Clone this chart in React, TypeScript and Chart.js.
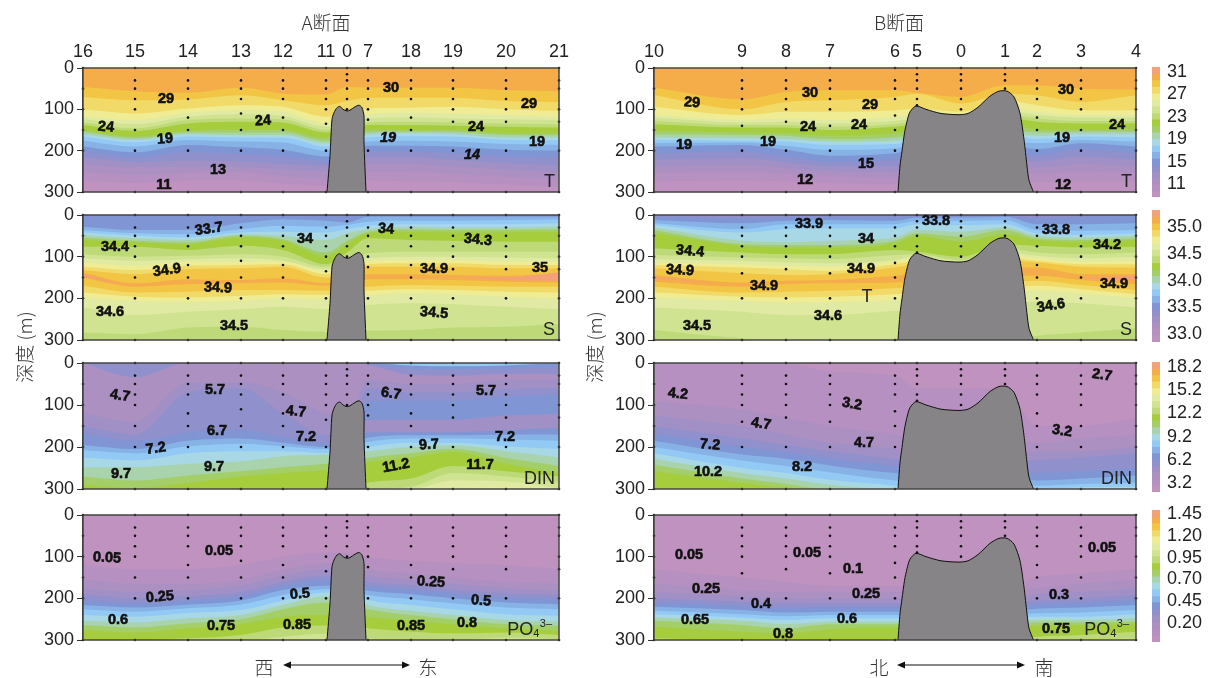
import React, { useEffect, useRef } from "react";
import { Chart, registerables } from "chart.js";
Chart.register(...registerables);

const PALETTE = ["#F4A078","#F5AD4A","#F2C644","#F1DA68","#EFEC94","#E0EAA2","#CFE391","#BEDA78","#A6CD3C","#A3CE68","#A8D3AC","#A8D8E6","#93C9F5","#86B2E6","#7F95D4","#8F90CC","#A090C5","#AD90C2","#B690C0","#C092BF"];
const TERRAIN_COLOR = "#868486";

const stationsA = ["16","15","14","13","12","11","0","7","18","19","20","21"];
const distA = [0,52,105,158,200,243,264,285,328,370,423,476];
const stationsB = ["10","9","8","7","6","5","0","1","2","3","4"];
const distB = [0,88,132,176,241,263,307,351,383,427,482];

const sampleDepthsA = [[0,50,100,150,200,300],[0,30,50,75,100,150,200,300],[0,30,50,75,120,150,200,300],[0,30,50,75,110,150,200,300],[0,30,50,75,120,150,200,300],[0,30,50,75,100,135,200,300],[0,15,30,50,75,100],[0,30,50,75,100,125,200,300],[0,30,50,75,120,150,200,300],[0,30,50,75,100,130,200,300],[0,30,50,75,100,130,200,300],[0,30,50,100,130,200,300]];
const sampleDepthsB = [[0,50,100,150,200,300],[0,30,50,75,100,140,200,300],[0,30,50,75,100,130,200,300],[0,30,50,75,100,140,200,300],[0,30,50,75,115,150,200,300],[0,15,30,50,75,90],[0,15,30,50,75,100],[0,15,30,50],[0,30,50,75,120,150,200,300],[0,30,50,75,100,150,200,300],[0,30,50,100,150,200,300]];

const terrainDistA = [244,247,249,251,254,257,260,264,267,272,276,279,281,281,283];
const terrainDepthA = [300,212,124,108,96,93,100,104,102,94,90,96,116,180,300];
const terrainDistB = [244,246,248,250.5,253,256,262,272,287,305,314,324,336,345,353,360,366,370,373,375,379.5];
const terrainDepthB = [300,237,201,157,129,106,92,100,110,113,110,95,68,56,56,70,110,173,237,272,300];

const tempAColors = [1,2,3,4,5,6,7,8,9,10,11,12,13,14,15,16,17,18,19];
const tempARows = [
[0,0,0,0,0,0,0,0,0,0,0,0],
[46,56,60,48,62,64,46,47,48,48,54,56],
[70,78,76,66,78,90,80,72,72,72,80,82],
[100,110,98,90,94,118,110,98,96,94,100,104],
[116,126,108,102,106,134,126,112,108,110,114,118],
[124,136,118,112,116,142,134,122,120,122,124,126],
[132,146,126,122,124,150,142,132,130,132,134,136],
[138,152,134,130,132,156,148,138,138,140,142,144],
[150,166,152,150,150,170,162,150,150,150,158,158],
[155,170,156,156,156,176,168,156,154,155,162,163],
[160,174,160,162,162,182,174,162,158,160,168,168],
[166,180,166,168,168,190,180,168,165,166,174,175],
[176,190,174,178,180,200,188,178,176,178,184,186],
[190,204,186,192,198,214,200,188,188,190,198,200],
[202,216,204,208,214,226,214,202,202,206,214,216],
[216,228,224,226,232,236,226,216,216,222,230,236],
[232,240,240,240,246,250,240,232,232,238,246,252],
[252,258,254,252,262,268,256,252,252,256,264,270],
[272,278,272,272,280,284,276,272,274,276,282,288],
];
const tempBColors = [1,2,3,4,5,6,7,8,9,10,11,12,13,14,15,16,17,18,19];
const tempBRows = [
[0,0,0,0,0,0,0,0,0,0,0],
[48,76,58,54,54,60,70,42,42,50,52],
[66,100,82,78,70,62,86,62,66,82,66],
[94,114,106,106,102,98,106,78,90,102,102],
[114,126,122,126,118,114,118,94,106,114,114],
[120,132,130,134,128,122,126,104,114,120,120],
[128,138,138,142,136,130,132,112,122,128,128],
[136,144,144,150,142,138,140,120,130,134,134],
[152,156,158,164,158,152,152,140,148,150,148],
[160,162,164,172,168,160,160,148,156,154,154],
[168,170,172,178,176,168,168,156,164,160,160],
[174,176,178,186,184,176,176,164,172,166,168],
[182,180,188,198,194,186,186,176,182,174,178],
[190,186,198,212,206,198,198,188,196,182,190],
[206,202,214,226,222,214,214,204,212,196,206],
[222,218,228,238,238,230,230,220,226,214,222],
[238,234,242,250,252,246,246,238,240,232,238],
[254,252,256,262,266,262,262,256,256,252,254],
[274,272,274,278,282,280,280,276,276,274,274],
];
const salAColors = [15,14,13,12,11,10,9,8,7,6,5,4,3,2,1,0,1,2,3,4,5,6,7];
const salARows = [
[0,0,0,0,0,0,0,0,0,0,0,0],
[4,2,2,1,2,3,3,1,1,1,1,1],
[28,36,36,20,10,14,18,4,4,4,4,4],
[36,44,46,34,26,28,24,16,14,14,12,10],
[42,50,54,42,40,42,34,26,22,22,22,20],
[48,56,60,46,50,60,44,34,28,30,30,28],
[54,62,66,50,58,90,62,40,34,36,36,34],
[60,66,70,54,62,100,70,44,40,42,42,40],
[76,76,84,74,84,118,90,56,60,62,64,64],
[94,100,98,94,100,124,110,92,88,88,88,88],
[104,110,106,104,110,130,118,104,100,100,102,104],
[114,122,112,112,112,136,124,110,108,108,112,112],
[124,132,122,120,118,142,130,118,116,116,120,120],
[132,142,130,128,124,150,136,124,124,124,128,128],
[138,164,154,156,152,164,154,142,142,144,146,140],
[142,168,160,158,156,165,158,148,146,148,150,138],
[148,168,160,158,156,165,158,148,146,148,156,158],
[150,172,166,164,162,170,164,154,154,156,160,162],
[170,186,184,180,180,182,176,172,168,170,172,172],
[186,196,198,194,190,192,188,182,178,180,184,186],
[198,206,208,206,200,202,198,192,188,190,196,200],
[222,240,232,226,220,226,222,216,212,214,220,226],
[282,286,270,268,276,280,280,278,276,270,268,262],
];
const salBColors = [15,14,13,12,11,10,9,8,7,6,5,4,3,2,1,0,1,2,3,4,5,6,7];
const salBRows = [
[0,0,0,0,0,0,0,0,0,0,0],
[4,8,6,4,4,3,3,3,8,4,3],
[12,20,14,12,14,6,6,4,22,22,20],
[20,34,22,22,22,14,14,12,36,38,36],
[24,42,34,32,32,22,24,22,44,48,44],
[30,62,66,62,54,36,40,30,50,54,50],
[36,70,72,72,62,44,52,36,56,60,56],
[44,74,78,78,68,50,64,46,60,64,60],
[80,90,94,94,84,88,100,70,74,78,76],
[96,102,104,106,96,94,108,80,90,94,90],
[106,110,114,116,108,98,112,90,98,104,100],
[114,118,122,124,112,104,116,96,104,112,110],
[120,126,130,134,118,110,120,102,110,118,118],
[128,140,144,142,126,118,126,110,114,124,126],
[144,162,158,156,146,140,140,128,126,142,142],
[148,166,160,158,154,148,148,138,136,150,146],
[152,166,160,158,154,148,148,138,136,150,156],
[160,172,166,164,162,158,158,146,146,156,166],
[172,186,184,182,176,172,172,162,158,168,180],
[186,196,198,196,190,186,186,176,170,178,190],
[198,206,210,208,204,198,198,190,182,188,200],
[222,232,240,240,230,226,226,216,208,212,222],
[276,296,300,300,300,300,300,300,290,282,272],
];
const dinAColors = [12,14,16,15,17,16,15,14,16,14,13,12,11,10,9,8,7,6,5,4];
const dinARows = [
[0,0,0,0,0,0,0,0,0,0,0,0],
[0,0,0,0,0,0,0,0,6,8,6,0],
[0,0,0,0,0,0,0,4,14,16,14,10],
[0,0,0,0,0,0,0,4,14,16,14,10],
[0,34,0,0,0,0,0,4,28,30,26,26],
[120,140,46,46,70,120,130,40,50,50,40,40],
[150,170,70,60,120,170,170,60,70,70,62,60],
[168,186,165,160,175,190,185,90,90,90,80,76],
[175,192,172,168,180,196,190,135,135,135,125,120],
[175,192,172,168,180,196,190,165,165,165,160,155],
[195,205,185,180,190,200,195,178,172,172,170,170],
[208,215,198,192,198,205,200,188,180,180,182,185],
[225,232,215,210,210,214,210,200,190,190,198,205],
[248,248,240,234,222,218,215,210,200,196,210,225],
[270,280,268,258,248,240,235,226,215,204,226,245],
[290,298,286,270,262,255,250,236,225,212,240,262],
[300,300,300,300,300,300,300,285,275,245,258,270],
[300,300,300,300,300,300,300,300,295,262,270,285],
[300,300,300,300,300,300,300,300,300,280,282,298],
[300,300,300,300,300,300,300,300,300,298,296,300],
];
const dinBColors = [19,18,17,16,15,14,13,12,11,10,9,8,7];
const dinBRows = [
[0,0,0,0,0,0,0,0,0,0,0],
[0,0,0,20,30,60,60,60,150,150,130],
[90,110,130,150,170,180,180,180,190,180,170],
[125,150,170,190,205,220,220,220,210,210,200],
[150,180,195,210,228,235,235,235,232,225,215],
[168,200,212,228,245,250,250,250,262,258,250],
[185,218,228,244,262,265,265,265,280,275,268],
[200,232,245,260,280,285,285,285,292,288,285],
[215,250,262,278,292,300,300,300,300,296,294],
[228,262,275,290,300,300,300,300,300,300,300],
[242,275,288,300,300,300,300,300,300,300,300],
[258,285,296,300,300,300,300,300,300,300,300],
[300,300,300,300,300,300,300,300,300,300,300],
];
const poAColors = [19,18,17,16,15,14,13,12,11,10,9,8,7,6];
const poARows = [
[0,0,0,0,0,0,0,0,0,0,0,0],
[120,130,130,120,100,90,90,100,110,115,120,130],
[155,165,165,155,130,115,115,130,140,150,160,165],
[175,185,180,170,145,130,130,145,155,165,175,180],
[190,200,195,185,160,145,145,160,168,178,188,192],
[205,212,205,195,170,155,155,170,178,188,198,202],
[216,222,215,205,180,170,170,182,190,200,210,214],
[226,232,224,215,192,178,178,192,202,212,222,226],
[240,244,235,228,205,186,186,204,216,226,238,242],
[254,258,248,240,216,195,195,216,230,240,252,256],
[264,270,260,250,226,210,210,226,240,250,262,266],
[276,282,272,262,244,240,240,245,254,262,272,278],
[300,300,296,288,270,265,265,272,280,284,282,288],
[300,300,300,300,292,285,285,296,300,300,294,298],
];
const poBColors = [19,18,17,16,15,14,13,12,11,10,9,8,7,6];
const poBRows = [
[0,0,0,0,0,0,0,0,0,0,0],
[130,150,160,170,170,170,170,170,150,140,130],
[165,180,185,185,185,185,185,185,175,165,155],
[185,195,200,200,200,200,200,200,190,185,175],
[200,208,212,212,212,212,212,212,205,200,192],
[210,218,224,222,222,222,222,222,214,210,204],
[220,228,234,232,232,232,232,232,225,222,216],
[230,238,243,240,240,240,240,240,236,234,228],
[238,246,252,248,248,248,248,248,244,244,238],
[246,254,262,256,256,256,256,256,252,252,248],
[254,264,272,262,262,262,262,262,258,258,256],
[268,280,284,274,270,270,270,270,266,264,262],
[296,300,300,300,300,300,300,300,292,288,280],
[300,300,300,300,300,300,300,300,300,300,296],
];

type Lab = [string, number, number, number?, boolean?];
const tempALabels: Lab[] = [["24",23,143,5],["29",83,75],["19",82,172,-4],["13",135,247],["11",81,283],["24",180,128,-4],["30",308,48],["19",305,169,0,true],["24",393,143],["14",389,211,0,true],["29",446,87],["19",454,179]];
const salALabels: Lab[] = [["34.4",32,77],["33.7",126,34,-8],["34",222,58],["34",303,34,4],["34.3",395,60,6],["34.9",84,133,-8],["34.9",135,175,3],["34.9",351,130],["35",457,128],["34.6",27,232],["34.5",151,266],["34.5",351,235,5]];
const dinALabels: Lab[] = [["4.7",37,78,8],["5.7",132,64],["5.7",403,66],["6.7",308,73,8],["4.7",213,116,5],["6.7",134,162],["7.2",73,204,-8],["7.2",223,176],["7.2",422,176],["9.7",346,195,-4],["9.7",38,264],["9.7",131,248],["11.2",313,245,-10],["11.7",397,243]];
const poALabels: Lab[] = [["0.05",24,103,3],["0.05",136,86],["0.25",77,197,-5],["0.25",348,161,3],["0.5",217,190,-5],["0.5",398,206,4],["0.6",35,252],["0.75",138,266],["0.85",214,264],["0.85",328,266],["0.8",384,259]];
const tempBLabels: Lab[] = [["29",38,84,4],["19",30,186],["30",156,60],["29",216,89],["24",154,143],["24",205,138],["19",114,179],["15",212,232],["12",151,271],["30",412,53],["19",408,169],["24",463,138],["12",409,283]];
const salBLabels: Lab[] = [["34.4",36,87,5],["34.9",26,133,3],["33.9",155,22],["34",212,58],["33.8",282,14],["33.8",402,36],["34.2",453,72],["34.9",110,170],["34.9",207,130],["34.9",460,165],["34.6",174,243],["34.6",397,218,-10],["34.5",43,266]];
const dinBLabels: Lab[] = [["4.2",24,74,6],["2.7",448,29,8],["3.2",198,98,10],["3.2",408,162,8],["4.7",107,145,8],["4.7",210,190],["7.2",56,195,5],["8.2",148,248],["10.2",54,260]];
const poBLabels: Lab[] = [["0.05",35,96],["0.05",153,91],["0.1",199,130],["0.05",448,79],["0.25",52,178],["0.25",212,190],["0.4",107,214],["0.3",405,192],["0.65",41,252],["0.6",193,250],["0.8",129,286],["0.75",402,274]];

const FONT = '"Liberation Sans", Arial, sans-serif';
const CJK = '"Noto Sans CJK SC", sans-serif';
const TEXT = "#222";

const labelPlugin = (labels: Lab[], name: string, extra: Lab[] = []) => ({
  id: "labels",
  afterDatasetsDraw(chart: any) {
    const { ctx, chartArea: a, scales } = chart;
    ctx.save();
    ctx.strokeStyle = "#444";
    ctx.lineWidth = 1.5;
    ctx.strokeRect(a.left, a.top, a.right - a.left, a.bottom - a.top);
    ctx.textAlign = "center";
    ctx.textBaseline = "middle";
    for (const [t, x, d, rot = 0, it = false] of labels) {
      ctx.save();
      ctx.translate(scales.x.getPixelForValue(x), scales.y.getPixelForValue(d));
      ctx.rotate((rot * Math.PI) / 180);
      ctx.font = `${it ? "italic " : ""}bold 14.5px ${FONT}`;
      ctx.fillStyle = "#111";
      ctx.strokeStyle = "#111";
      ctx.lineWidth = 0.6;
      ctx.fillText(t, 0, 0);
      ctx.strokeText(t, 0, 0);
      ctx.restore();
    }
    ctx.fillStyle = TEXT;
    ctx.font = `18px ${FONT}`;
    for (const [t, x, d] of extra) ctx.fillText(t, scales.x.getPixelForValue(x), scales.y.getPixelForValue(d));
    const base = a.bottom - 10;
    ctx.textAlign = "right";
    if (name === "PO4") {
      const r = a.right - 7;
      ctx.font = `11px ${FONT}`;
      ctx.fillText("3–", r, base - 6);
      const w1 = ctx.measureText("3–").width;
      ctx.fillText("4", r - w1 - 0.5, base + 4);
      const w2 = ctx.measureText("4").width;
      ctx.font = `18px ${FONT}`;
      ctx.fillText("PO", r - w1 - w2 - 0.5, base);
    } else {
      ctx.fillText(name, a.right - 4, base);
    }
    ctx.restore();
  },
});

function panelConfig(opts: any) {
  const { names, dist, rows, colors, terrainDist, terrainDepth, samples, labels, name, showTop, extra, rightPad } = opts;
  const datasets: any[] = rows.map((row: number[], i: number) => ({
    data: row.map((y, k) => ({ x: dist[k], y })),
    backgroundColor: PALETTE[colors[i]],
    borderWidth: 0,
    pointRadius: 0,
    fill: { target: { value: 300 } },
    cubicInterpolationMode: "monotone",
    order: 1000 - i,
  }));
  datasets.push({
    data: terrainDist.map((x: number, k: number) => ({ x, y: terrainDepth[k] })),
    backgroundColor: TERRAIN_COLOR,
    borderColor: "#111",
    borderWidth: 1,
    pointRadius: 0,
    fill: { target: { value: 300 } },
    tension: 0.25,
    order: 1,
  });
  const dots: any[] = [];
  samples.forEach((list: number[], k: number) => list.forEach((y) => dots.push({ x: dist[k], y })));
  datasets.push({ data: dots, showLine: false, pointRadius: 1.3, pointBorderWidth: 0, pointBackgroundColor: "#111", clip: false, order: 0 });
  return {
    type: "line",
    data: { datasets },
    options: {
      responsive: false,
      animation: false,
      events: [],
      layout: { padding: { left: 0, right: rightPad, bottom: 14, top: showTop ? 0 : 30 } },
      plugins: { legend: { display: false }, tooltip: { enabled: false } },
      scales: {
        x: {
          type: "linear",
          position: "top",
          display: !!showTop,
          min: dist[0],
          max: dist[dist.length - 1],
          afterBuildTicks: (s: any) => { s.ticks = dist.map((value: number) => ({ value })); },
          afterFit: (s: any) => { s.height = showTop ? 30 : 0; },
          grid: { display: false, drawTicks: false },
          border: { display: false },
          ticks: { autoSkip: false, maxRotation: 0, minRotation: 0, padding: 5, color: TEXT, font: { family: FONT, size: 18 }, callback: (_: any, i: number) => names[i] },
        },
        y: {
          type: "linear",
          reverse: true,
          min: 0,
          max: 300,
          afterFit: (s: any) => { s.width = 60; },
          grid: { drawOnChartArea: false, tickLength: 6, color: "#333" },
          border: { color: "#333", width: 1.5 },
          ticks: { stepSize: 100, padding: 3, color: TEXT, font: { family: FONT, size: 18 } },
        },
      },
    },
    plugins: [labelPlugin(labels, name, extra)],
  };
}

const tempBarEdges = [31.9,30.7,29.6,28.4,27.2,26.1,24.9,23.7,22.6,21.4,20.3,19.1,17.9,16.8,15.6,14.4,13.3,12.1,11,9.8,8.7];
const tempBarTicks = ["31","27","23","19","15","11"];
const salBarEdges = [35.32,35.2,35.07,34.95,34.83,34.7,34.58,34.46,34.33,34.21,34.09,33.96,33.84,33.72,33.59,33.47,33.35,33.22,33.1,32.97,32.85];
const salBarTicks = ["35.0","34.5","34.0","33.5","33.0"];
const dinBarEdges = [18.85,18.01,17.17,16.33,15.49,14.65,13.81,12.97,12.13,11.29,10.45,9.6,8.76,7.92,7.08,6.24,5.4,4.56,3.72,2.88,2.04];
const dinBarTicks = ["18.2","15.2","12.2","9.2","6.2","3.2"];
const poBarEdges = [1.5,1.42,1.35,1.27,1.2,1.12,1.04,0.97,0.89,0.82,0.74,0.67,0.59,0.51,0.44,0.36,0.29,0.21,0.13,0.06,-0.02];
const poBarTicks = ["1.45","1.20","0.95","0.70","0.45","0.20"];

function barConfig(edges: number[], tickNames: string[]) {
  const datasets = PALETTE.map((c, i) => ({
    data: [[edges[i + 1], edges[i]]],
    backgroundColor: c,
    borderWidth: 0,
    grouped: false,
    barPercentage: 1,
    categoryPercentage: 1,
  }));
  return {
    type: "bar",
    data: { labels: [""], datasets },
    options: {
      responsive: false,
      animation: false,
      events: [],
      layout: { padding: { top: 25, bottom: 25, left: 0, right: 0 } },
      plugins: { legend: { display: false }, tooltip: { enabled: false } },
      scales: {
        x: { display: false, afterFit: (s: any) => { s.height = 0; } },
        y: {
          type: "linear",
          position: "right",
          min: edges[edges.length - 1],
          max: edges[0],
          afterBuildTicks: (s: any) => { s.ticks = tickNames.map((t) => ({ value: Number(t) })); },
          afterFit: (s: any) => { s.width = 49; },
          grid: { display: false, drawTicks: false },
          border: { display: false },
          ticks: { autoSkip: false, padding: 7, color: TEXT, font: { family: FONT, size: 18 }, callback: (_: any, i: number) => tickNames[i] },
        },
      },
    },
  };
}

function ChartBox({ config, left, top, width, height }: any) {
  const ref = useRef<HTMLCanvasElement>(null);
  useEffect(() => {
    const chart = new Chart(ref.current as any, config());
    return () => chart.destroy();
  }, []);
  return <canvas ref={ref} width={width} height={height} style={{ position: "absolute", left, top, width, height }} />;
}

const sectionA = { names: stationsA, dist: distA, terrainDist: terrainDistA, terrainDepth: terrainDepthA, samples: sampleDepthsA, rightPad: 25 };
const sectionB = { names: stationsB, dist: distB, terrainDist: terrainDistB, terrainDepth: terrainDepthB, samples: sampleDepthsB, rightPad: 15 };
const rowTops = [68, 215, 363, 515];
const rowHeights = [124, 125, 126, 125];
const panelsA = [
  { rows: tempARows, colors: tempAColors, labels: tempALabels, name: "T", showTop: true },
  { rows: salARows, colors: salAColors, labels: salALabels, name: "S" },
  { rows: dinARows, colors: dinAColors, labels: dinALabels, name: "DIN" },
  { rows: poARows, colors: poAColors, labels: poALabels, name: "PO4" },
];
const panelsB = [
  { rows: tempBRows, colors: tempBColors, labels: tempBLabels, name: "T", showTop: true },
  { rows: salBRows, colors: salBColors, labels: salBLabels, name: "S", extra: [["T", 213, 196]] },
  { rows: dinBRows, colors: dinBColors, labels: dinBLabels, name: "DIN" },
  { rows: poBRows, colors: poBColors, labels: poBLabels, name: "PO4" },
];
const colorBars = [
  { edges: tempBarEdges, ticks: tempBarTicks, top: 67, h: 130 },
  { edges: salBarEdges, ticks: salBarTicks, top: 210, h: 132 },
  { edges: dinBarEdges, ticks: dinBarTicks, top: 362, h: 130 },
  { edges: poBarEdges, ticks: poBarTicks, top: 510, h: 132 },
];

const txt = (s: string, x: number, y: number, rotate = false) => (
  <div style={{ position: "absolute", left: x - 60, top: y - 12, width: 120, height: 24, lineHeight: "24px", textAlign: "center", fontFamily: CJK, fontSize: 19, fontWeight: 300, color: "#333", whiteSpace: "nowrap", willChange: "transform", transform: rotate ? "rotate(-90deg)" : "translateZ(0)" }}>{s}</div>
);

const Arrow = ({ x1, x2, y }: any) => (
  <svg style={{ position: "absolute", left: x1, top: y - 6, width: x2 - x1, height: 12 }} viewBox={`0 0 ${x2 - x1} 12`}>
    <line x1={4} y1={6} x2={x2 - x1 - 4} y2={6} stroke="#111" strokeWidth={1} />
    <polygon points="0,6 8,2.5 8,9.5" fill="#111" />
    <polygon points={`${x2 - x1},6 ${x2 - x1 - 8},2.5 ${x2 - x1 - 8},9.5`} fill="#111" />
  </svg>
);

export default function App() {
  return (
    <div style={{ position: "absolute", left: 0, top: 0, width: 1209, height: 678, overflow: "hidden", background: "#fff" }}>
      {panelsA.map((p, i) => (
        <ChartBox key={"a" + i} left={83 - 60} top={rowTops[i] - 30} width={60 + 476 + 25} height={30 + rowHeights[i] + 14}
          config={() => panelConfig({ ...sectionA, ...p })} />
      ))}
      {panelsB.map((p, i) => (
        <ChartBox key={"b" + i} left={654 - 60} top={rowTops[i] - 30} width={60 + 482 + 15} height={30 + rowHeights[i] + 14}
          config={() => panelConfig({ ...sectionB, ...p })} />
      ))}
      {colorBars.map((c, i) => (
        <ChartBox key={"c" + i} left={1152} top={c.top - 25} width={57} height={c.h + 50} config={() => barConfig(c.edges, c.ticks)} />
      ))}
      {txt("A断面", 326, 22)}
      {txt("B断面", 899, 22)}
      {txt("深度 (m)", 24, 347, true)}
      {txt("深度 (m)", 594, 347, true)}
      {txt("西", 264, 667)}
      {txt("东", 428, 667)}
      {txt("北", 879, 667)}
      {txt("南", 1044, 667)}
      <Arrow x1={283} x2={410} y={665} />
      <Arrow x1={897} x2={1025} y={665} />
    </div>
  );
}
